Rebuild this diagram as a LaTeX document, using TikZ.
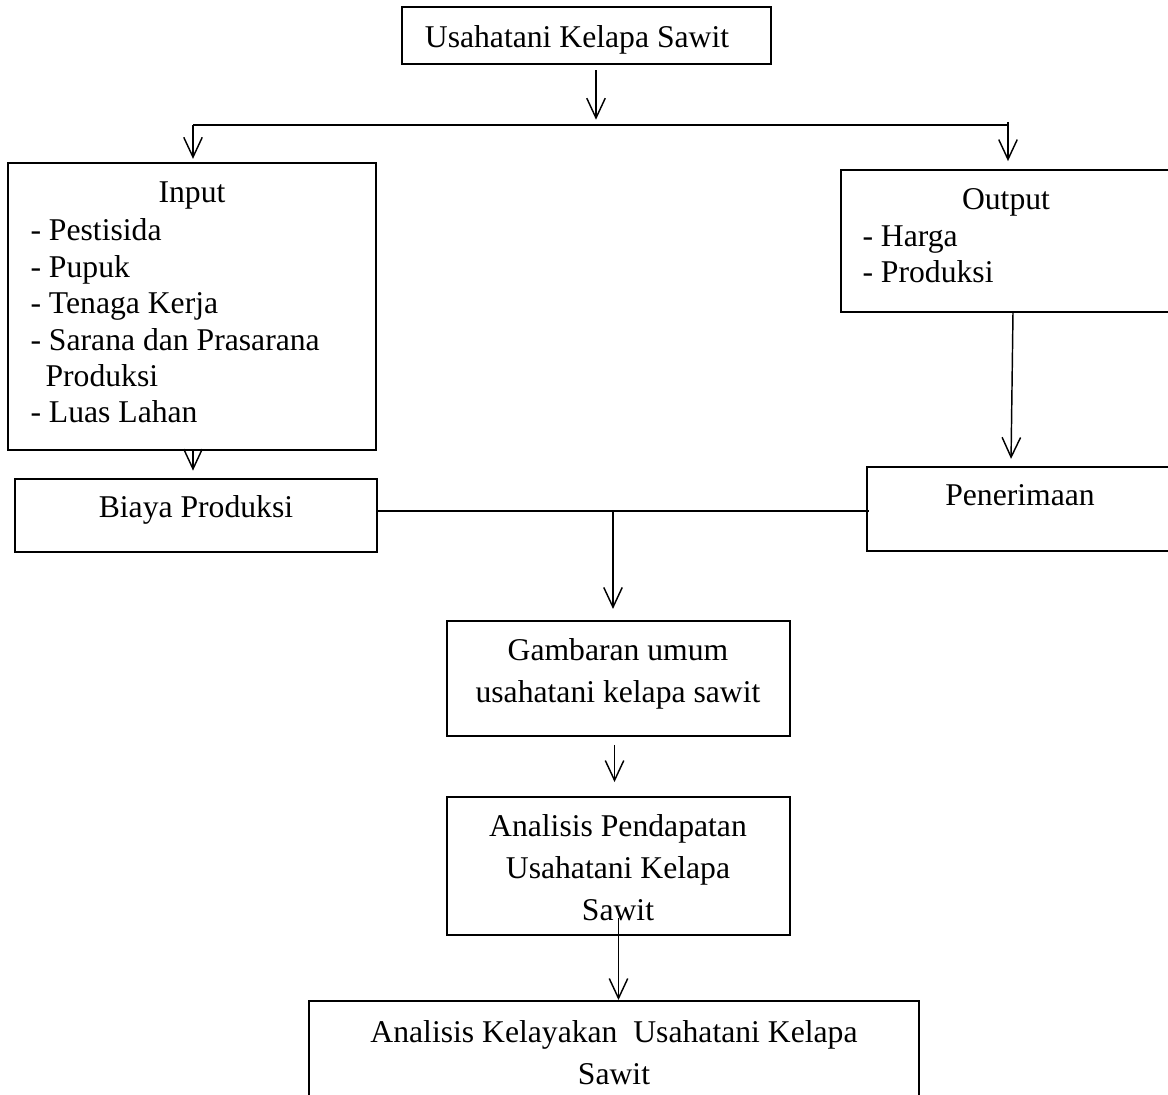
\documentclass[tikz,border=0pt]{standalone}
\usepackage{fontspec}
\setmainfont{Liberation Serif}
\usetikzlibrary{arrows.meta,fit}

\tikzset{
  box/.style={draw,line width=0.75pt,inner sep=0pt},
  txt/.style={anchor=base,inner sep=0pt,font=\fontsize{12}{13.8}\selectfont},
  txtwide/.style={anchor=base,inner sep=0pt,align=center,font=\fontsize{12}{16}\selectfont},
  arr/.style={-{Straight Barb[length=7.5pt,width=7pt]},line width=0.55pt},
  conn/.style={line width=0.55pt}
}

\begin{document}
\begin{tikzpicture}[x=0.379pt,y=-0.379pt]
\useasboundingbox (0,0) rectangle (1168,1095);
\clip (0,0) rectangle (1168,1095);

\node[box,fit={(402,7) (771,64)}] (usaha) {};
\node[box,fit={(8,163) (376,450)}] (input) {};
\node[box,fit={(841,170) (1185,312)}] (output) {};
\node[box,fit={(15,479) (377,552)}] (biaya) {};
\node[box,fit={(867,467) (1185,551)}] (terima) {};
\node[box,fit={(447,621) (790,736)}] (gambaran) {};
\node[box,fit={(447,797) (790,935)}] (pendapatan) {};
\node[box,fit={(309,1001) (919,1130)}] (kelayakan) {};

\node[txt] (usahatxt) at (577,48) {Usahatani Kelapa Sawit};
\node[txt] (inputtxt) at (192,203) {Input};
\node[txt,anchor=base west,align=left] (inputlist) at (30,423)
  {- Pestisida\\- Pupuk\\- Tenaga Kerja\\- Sarana dan Prasarana\\\hspace*{5.7pt}Produksi\\- Luas Lahan};
\node[txt] (biayatxt) at (196,518) {Biaya Produksi};
\node[txt] (outputtxt) at (1006,210) {Output};
\node[txt,anchor=base west,align=left] (outputlist) at (862,283) {- Harga\\- Produksi};
\node[txt] (terimatxt) at (1020,506) {Penerimaan};
\node[txtwide] (gambarantxt) at (618,703) {Gambaran umum\\usahatani kelapa sawit};
\node[txtwide] (pendapatantxt) at (618,921) {Analisis Pendapatan\\Usahatani Kelapa\\Sawit};
\node[txtwide] (kelayakantxt) at (614,1085) {Analisis Kelayakan~ Usahatani Kelapa\\Sawit};

\coordinate (split) at (596,125);
\coordinate (lsplit) at (193,125);
\coordinate (rsplit) at (1008,125);
\coordinate (join) at (613,511);

\draw[arr,shorten <=2pt,shorten >=2pt] (usaha.south -| split) -- (split);
\draw[conn] (lsplit) -- (rsplit);
\draw[arr,shorten >=1.2pt] (lsplit) -- (lsplit |- input.north);
\draw[arr,shorten >=3pt] ([yshift=1.2pt]rsplit) -- (rsplit |- output.north);
\draw[arr,shorten >=2.8pt] (input.south -| lsplit) -- (lsplit |- biaya.north);
\draw[arr,shorten >=2.7pt] (output.south) -- ([xshift=-5.7pt]terima.north);
\draw[conn] (biaya.east |- join) -- ([xshift=1pt]terima.west |- join);
\draw[arr,shorten >=4.2pt] (join) -- (join |- gambaran.north);
\draw[arr,shorten <=3pt,shorten >=5.3pt] ([xshift=-1.5pt]gambaran.south) -- ([xshift=-1.5pt]gambaran.south |- pendapatan.north);
\draw[arr] ([yshift=6.8pt]pendapatan.south) -- (pendapatan.south |- kelayakan.north);
\end{tikzpicture}
\end{document}
